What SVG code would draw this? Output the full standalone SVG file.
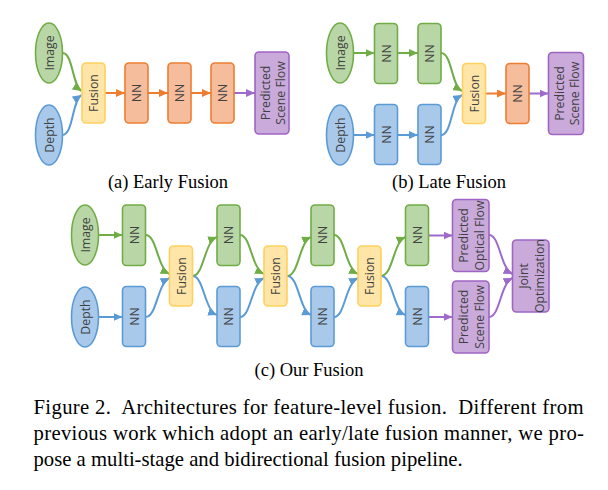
<svg xmlns="http://www.w3.org/2000/svg" width="608" height="490" viewBox="0 0 608 490">
<style>
.g{fill:#b9d7a6;stroke:#70ad47;stroke-width:1.6}
.b{fill:#a9c9eb;stroke:#5b9bd5;stroke-width:1.6}
.o{fill:#f6bd9d;stroke:#ed7d31;stroke-width:1.6}
.f{fill:#ffe6a8;stroke:#ffd15c;stroke-width:1.6}
.p{fill:#c9aadb;stroke:#9e65c4;stroke-width:1.6}
.t{font-family:"Open Sans","DejaVu Sans",sans-serif;font-size:12.3px;fill:#404040;text-anchor:middle;dominant-baseline:central}
.cap{font-family:"Liberation Serif","Times New Roman",serif;fill:#000}
.sub{font-size:18.5px;text-anchor:middle}
.body{font-size:20.7px}
#conn path{fill:none;stroke-width:2}
.cg{stroke:#70ad47}
.cb{stroke:#5b9bd5}
.co{stroke:#ed7d31}
.cp{stroke:#a06ac8}
</style>
<defs>
<marker id="mg" markerUnits="userSpaceOnUse" markerWidth="10" markerHeight="8" refX="9" refY="4" orient="auto"><path d="M0,0 L9,4 L0,8 z" fill="#70ad47"/></marker>
<marker id="mb" markerUnits="userSpaceOnUse" markerWidth="10" markerHeight="8" refX="9" refY="4" orient="auto"><path d="M0,0 L9,4 L0,8 z" fill="#5b9bd5"/></marker>
<marker id="mo" markerUnits="userSpaceOnUse" markerWidth="10" markerHeight="8" refX="9" refY="4" orient="auto"><path d="M0,0 L9,4 L0,8 z" fill="#ed7d31"/></marker>
<marker id="mp" markerUnits="userSpaceOnUse" markerWidth="10" markerHeight="8" refX="9" refY="4" orient="auto"><path d="M0,0 L9,4 L0,8 z" fill="#a06ac8"/></marker>
</defs>

<g id="conn">
<!-- (a) -->
<path class="cg" marker-end="url(#mg)" d="M62.5,53 C73,53 72,85 81.5,91"/>
<path class="cb" marker-end="url(#mb)" d="M62.5,135 C73,135 72,101 81.5,95"/>
<path class="co" marker-end="url(#mo)" d="M105,93 H125"/>
<path class="co" marker-end="url(#mo)" d="M148,93 H168"/>
<path class="co" marker-end="url(#mo)" d="M191,93 H211"/>
<path class="cp" marker-end="url(#mp)" d="M234,93 H255"/>
<!-- (b) -->
<path class="cg" marker-end="url(#mg)" d="M353.5,53 H374.5"/>
<path class="cg" marker-end="url(#mg)" d="M397.5,53 H418"/>
<path class="cg" marker-end="url(#mg)" d="M441,53 C452,53 451,85 462,91"/>
<path class="cb" marker-end="url(#mb)" d="M353.5,135 H374.5"/>
<path class="cb" marker-end="url(#mb)" d="M397.5,135 H418"/>
<path class="cb" marker-end="url(#mb)" d="M441,135 C452,135 451,101 462,95"/>
<path class="co" marker-end="url(#mo)" d="M485.5,93.5 H506"/>
<path class="cp" marker-end="url(#mp)" d="M529,93.5 H548.5"/>
<!-- (c) -->
<path class="cg" marker-end="url(#mg)" d="M98.5,235 H122.5"/>
<path class="cb" marker-end="url(#mb)" d="M98.5,317 H122.5"/>
<path class="cg" marker-end="url(#mg)" d="M145.5,235 C157,235 157,268 169.5,274"/>
<path class="cb" marker-end="url(#mb)" d="M145.5,317 C157,317 157,284 169.5,278"/>
<path class="cg" marker-end="url(#mg)" d="M192.5,276 C204,276 204,242 217,237"/>
<path class="cb" marker-end="url(#mb)" d="M192.5,276 C204,276 204,310 217,315"/>
<path class="cg" marker-end="url(#mg)" d="M240,235 C251,235 251,268 264,274"/>
<path class="cb" marker-end="url(#mb)" d="M240,317 C251,317 251,284 264,278"/>
<path class="cg" marker-end="url(#mg)" d="M287,276 C299,276 299,242 311,237"/>
<path class="cb" marker-end="url(#mb)" d="M287,276 C299,276 299,310 311,315"/>
<path class="cg" marker-end="url(#mg)" d="M334,235 C345,235 345,268 358,274"/>
<path class="cb" marker-end="url(#mb)" d="M334,317 C345,317 345,284 358,278"/>
<path class="cg" marker-end="url(#mg)" d="M381,276 C393,276 393,242 405.5,237"/>
<path class="cb" marker-end="url(#mb)" d="M381,276 C393,276 393,310 405.5,315"/>
<path class="cp" marker-end="url(#mp)" d="M428.5,235.5 H452.5"/>
<path class="cp" marker-end="url(#mp)" d="M428.5,317 H452.5"/>
<path class="cp" marker-end="url(#mp)" d="M489,235 C500,235 500,268 512.5,274"/>
<path class="cp" marker-end="url(#mp)" d="M489,317 C500,317 500,284 512.5,278"/>
</g>

<!-- (a) nodes -->
<g id="img_a"><ellipse class="g" cx="49" cy="53" rx="13.5" ry="30"/><text class="t" transform="translate(49,53) rotate(-90)">Image</text></g>
<g id="dep_a"><ellipse class="b" cx="49" cy="135" rx="13.5" ry="30"/><text class="t" transform="translate(49,135) rotate(-90)">Depth</text></g>
<g id="fus_a"><rect class="f" x="82" y="63" width="23" height="60" rx="4"/><text class="t" transform="translate(93.5,93) rotate(-90)">Fusion</text></g>
<g id="nn_a1"><rect class="o" x="125" y="63" width="23" height="60" rx="4"/><text class="t" transform="translate(136.5,93) rotate(-90)">NN</text></g>
<g id="nn_a2"><rect class="o" x="168" y="63" width="23" height="60" rx="4"/><text class="t" transform="translate(179.5,93) rotate(-90)">NN</text></g>
<g id="nn_a3"><rect class="o" x="211" y="63" width="23" height="60" rx="4"/><text class="t" transform="translate(222.5,93) rotate(-90)">NN</text></g>
<g id="pred_a"><rect class="p" x="255" y="52" width="34" height="82" rx="4"/><text class="t" transform="translate(272,93) rotate(-90)"><tspan x="0" y="-7.5">Predicted</tspan><tspan x="0" y="7.5">Scene Flow</tspan></text></g>

<!-- (b) nodes -->
<g id="img_b"><ellipse class="g" cx="340" cy="53" rx="13.5" ry="30"/><text class="t" transform="translate(340,53) rotate(-90)">Image</text></g>
<g id="dep_b"><ellipse class="b" cx="340" cy="135" rx="13.5" ry="30"/><text class="t" transform="translate(340,135) rotate(-90)">Depth</text></g>
<g id="nn_bg1"><rect class="g" x="374.5" y="23.5" width="23" height="60" rx="4"/><text class="t" transform="translate(386,53.5) rotate(-90)">NN</text></g>
<g id="nn_bg2"><rect class="g" x="418" y="23.5" width="23" height="60" rx="4"/><text class="t" transform="translate(429.5,53.5) rotate(-90)">NN</text></g>
<g id="nn_bb1"><rect class="b" x="374.5" y="104.5" width="23" height="60" rx="4"/><text class="t" transform="translate(386,134.5) rotate(-90)">NN</text></g>
<g id="nn_bb2"><rect class="b" x="418" y="104.5" width="23" height="60" rx="4"/><text class="t" transform="translate(429.5,134.5) rotate(-90)">NN</text></g>
<g id="fus_b"><rect class="f" x="462.5" y="63.5" width="23" height="60" rx="4"/><text class="t" transform="translate(474,93.5) rotate(-90)">Fusion</text></g>
<g id="nn_b"><rect class="o" x="506" y="63.5" width="23" height="60" rx="4"/><text class="t" transform="translate(517.5,93.5) rotate(-90)">NN</text></g>
<g id="pred_b"><rect class="p" x="548.5" y="52.5" width="35" height="82" rx="4"/><text class="t" transform="translate(566,93.5) rotate(-90)"><tspan x="0" y="-7.5">Predicted</tspan><tspan x="0" y="7.5">Scene Flow</tspan></text></g>

<!-- (c) nodes -->
<g id="img_c"><ellipse class="g" cx="85" cy="235" rx="13.5" ry="30"/><text class="t" transform="translate(85,235) rotate(-90)">Image</text></g>
<g id="dep_c"><ellipse class="b" cx="85" cy="317" rx="13.5" ry="30"/><text class="t" transform="translate(85,317) rotate(-90)">Depth</text></g>
<g id="nn_cg1"><rect class="g" x="122.5" y="205" width="23" height="60.5" rx="4"/><text class="t" transform="translate(134,235) rotate(-90)">NN</text></g>
<g id="nn_cb1"><rect class="b" x="122.5" y="286.5" width="23" height="60" rx="4"/><text class="t" transform="translate(134,316.5) rotate(-90)">NN</text></g>
<g id="fus_c1"><rect class="f" x="169.5" y="246" width="23" height="60" rx="4"/><text class="t" transform="translate(181,276) rotate(-90)">Fusion</text></g>
<g id="nn_cg2"><rect class="g" x="217" y="205" width="23" height="60.5" rx="4"/><text class="t" transform="translate(228.5,235) rotate(-90)">NN</text></g>
<g id="nn_cb2"><rect class="b" x="217" y="286.5" width="23" height="60" rx="4"/><text class="t" transform="translate(228.5,316.5) rotate(-90)">NN</text></g>
<g id="fus_c2"><rect class="f" x="264" y="246" width="23" height="60" rx="4"/><text class="t" transform="translate(275.5,276) rotate(-90)">Fusion</text></g>
<g id="nn_cg3"><rect class="g" x="311" y="205" width="23" height="60.5" rx="4"/><text class="t" transform="translate(322.5,235) rotate(-90)">NN</text></g>
<g id="nn_cb3"><rect class="b" x="311" y="286.5" width="23" height="60" rx="4"/><text class="t" transform="translate(322.5,316.5) rotate(-90)">NN</text></g>
<g id="fus_c3"><rect class="f" x="358" y="246" width="23" height="60" rx="4"/><text class="t" transform="translate(369.5,276) rotate(-90)">Fusion</text></g>
<g id="nn_cg4"><rect class="g" x="405.5" y="205" width="23" height="60.5" rx="4"/><text class="t" transform="translate(417,235) rotate(-90)">NN</text></g>
<g id="nn_cb4"><rect class="b" x="405.5" y="286.5" width="23" height="60" rx="4"/><text class="t" transform="translate(417,316.5) rotate(-90)">NN</text></g>
<g id="pred_of"><rect class="p" x="452.5" y="199.5" width="36.5" height="72" rx="4"/><text class="t" transform="translate(470.7,235.5) rotate(-90)"><tspan x="0" y="-8">Predicted</tspan><tspan x="0" y="8">Optical Flow</tspan></text></g>
<g id="pred_sf"><rect class="p" x="452.5" y="281" width="36.5" height="72" rx="4"/><text class="t" transform="translate(470.7,317) rotate(-90)"><tspan x="0" y="-8">Predicted</tspan><tspan x="0" y="8">Scene Flow</tspan></text></g>
<g id="joint"><rect class="p" x="512.5" y="240" width="36.5" height="72" rx="4"/><text class="t" transform="translate(530.7,276) rotate(-90)"><tspan x="0" y="-8">Joint</tspan><tspan x="0" y="8">Optimization</tspan></text></g>

<!-- captions -->
<text class="cap sub" x="168" y="188">(a) Early Fusion</text>
<text class="cap sub" x="449" y="188">(b) Late Fusion</text>
<text class="cap sub" x="309" y="376">(c) Our Fusion</text>
<text class="cap body" x="33.5" y="414" textLength="550" lengthAdjust="spacing" xml:space="preserve">Figure 2.  Architectures for feature-level fusion.  Different from</text>
<text class="cap body" x="33.5" y="440" textLength="550.5" lengthAdjust="spacing">previous work which adopt an early/late fusion manner, we pro-</text>
<text class="cap body" x="33.5" y="466">pose a multi-stage and bidirectional fusion pipeline.</text>
</svg>
